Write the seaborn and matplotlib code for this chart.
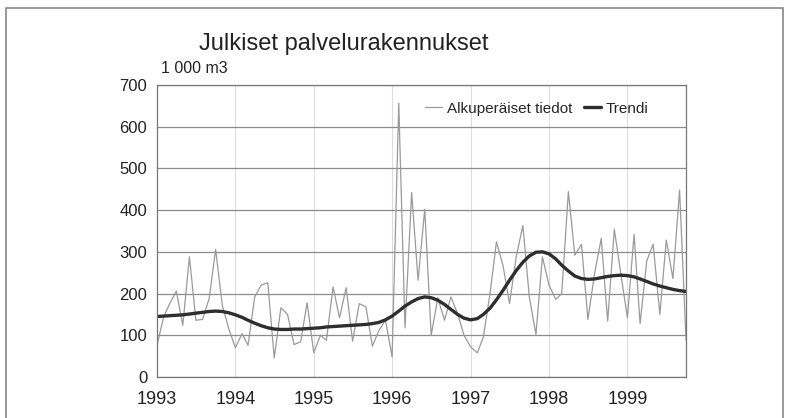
import pandas as pd
import matplotlib
matplotlib.use('Agg')
import matplotlib.pyplot as plt
import matplotlib.dates as mdates
from matplotlib.patches import Rectangle
import seaborn as sns

# Kuukausidata 1993/01 - 1999/10 (1 000 m3)
alkuperaiset = [76, 144, 176, 206, 124, 288, 136, 138, 188, 306, 172, 116,
                70, 104, 76, 192, 220, 226, 46, 166, 150, 78, 84, 178,
                58, 100, 88, 216, 142, 214, 86, 176, 168, 74, 112, 136,
                48, 656, 118, 442, 232, 402, 100, 190, 136, 192, 152, 100,
                72, 58, 96, 200, 324, 266, 176, 288, 363, 192, 102, 288,
                220, 186, 200, 444, 292, 318, 138, 248, 332, 134, 354, 248,
                142, 342, 128, 278, 318, 150, 328, 236, 448, 88]
trendi = [145, 146, 147, 148, 149, 151, 153, 155, 157, 158, 157, 154,
          149, 143, 136, 129, 123, 118, 115, 114, 114, 115, 115, 116,
          117, 118, 120, 121, 122, 123, 124, 125, 126, 128, 131, 137,
          146, 158, 170, 180, 188, 192, 190, 184, 174, 162, 150, 141,
          137, 140, 150, 165, 185, 208, 232, 255, 275, 290, 299, 300,
          295, 283, 268, 254, 242, 236, 234, 235, 238, 241, 243, 244,
          243, 240, 235, 229, 223, 218, 214, 210, 207, 205]

kuukaudet = pd.date_range('1993-01-01', periods=len(alkuperaiset), freq='MS')
df = pd.DataFrame({'kk': kuukaudet, 'alk': alkuperaiset, 'trendi': trendi})

sns.set_style('white')
plt.rcParams['font.family'] = ['Liberation Sans', 'DejaVu Sans']

fig = plt.figure(figsize=(7.89, 4.18), dpi=100)
ax = fig.add_axes([0.199, 0.098, 0.6705, 0.699])

sns.lineplot(data=df, x='kk', y='alk', ax=ax, color='#9a9a9a', lw=0.9,
             label='Alkuperäiset tiedot')
sns.lineplot(data=df, x='kk', y='trendi', ax=ax, color='#2e2e2e', lw=2.4,
             label='Trendi')

ax.set_ylim(0, 700)
ax.set_yticks(range(0, 701, 100))
ax.set_xlim(kuukaudet[0], kuukaudet[-1])
ax.xaxis.set_major_locator(mdates.YearLocator())
ax.xaxis.set_major_formatter(mdates.DateFormatter('%Y'))
ax.set_xlabel('')
ax.set_ylabel('')
ax.grid(axis='y', color='#8c8c8c', lw=0.9)
ax.grid(axis='x', color='#dddddd', lw=0.8)
ax.tick_params(axis='both', length=0, colors='#222222')
ax.tick_params(axis='y', pad=7, labelsize=12)
ax.tick_params(axis='x', pad=10, labelsize=13)
for s in ax.spines.values():
    s.set_color('#777777')
    s.set_linewidth(0.9)

leg = ax.legend(loc='upper right', bbox_to_anchor=(0.955, 0.99), ncol=2, frameon=False,
                fontsize=11, handlelength=1.1, handletextpad=0.3, columnspacing=0.8)

fig.text(0.436, 0.895, 'Julkiset palvelurakennukset', ha='center', va='center',
         fontsize=17, color='#222222')
fig.text(0.204, 0.835, '1 000 m3', ha='left', va='center', fontsize=11.5, color='#222222')

fig.patches.append(Rectangle((0.008, -0.01), 0.985, 0.99, transform=fig.transFigure,
                             fill=False, edgecolor='#888888', lw=1.2))

fig.savefig('out.png', dpi=100)
